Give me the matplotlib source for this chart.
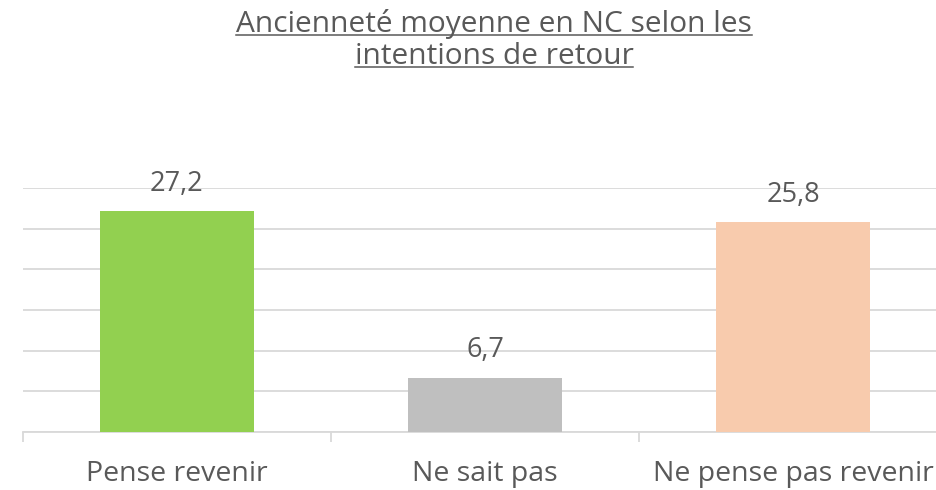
import matplotlib
matplotlib.use('Agg')
import matplotlib.pyplot as plt
from matplotlib.lines import Line2D

categories = ['Pense revenir', 'Ne sait pas', 'Ne pense pas revenir']
values = [27.2, 6.7, 25.8]
bar_colors = ['#92D050', '#BFBFBF', '#F8CBAD']
title_lines = ['Ancienneté moyenne en NC selon les', 'intentions de retour']

W, H = 937, 490
TXT = '#595959'
plt.rcParams['font.family'] = ['Open Sans', 'DejaVu Sans']

fig = plt.figure(figsize=(W / 100, H / 100), dpi=100)
# axes runs past the right edge like in the original export
ax = fig.add_axes((23 / W, 58 / H, (947 - 23) / W, (432 - 188) / H))

x = range(len(categories))
bars = ax.bar(x, values, width=0.5, color=bar_colors, zorder=3)

ax.set_ylim(0, 30)
ax.set_xlim(-0.5, len(categories) - 0.5)
ax.set_yticks([0, 5, 10, 15, 20, 25, 30])
ax.yaxis.grid(True, color='#D9D9D9', linewidth=1.3, zorder=0)
ax.tick_params(axis='y', length=0, labelleft=False)

ax.set_xticks(list(x))
ax.set_xticklabels(categories, fontsize=20.5, color=TXT)
ax.set_xticks([i - 0.5 for i in range(len(categories) + 1)], minor=True)
ax.tick_params(axis='x', which='major', length=0, pad=20)
ax.tick_params(axis='x', which='minor', length=7, width=1.3, color='#D9D9D9')

for s in ['top', 'right', 'left']:
    ax.spines[s].set_visible(False)
ax.spines['bottom'].set_color('#D9D9D9')
ax.spines['bottom'].set_linewidth(1.3)

for b, v in zip(bars, values):
    ax.annotate(f'{v:.1f}'.replace('.', ','),
                (b.get_x() + b.get_width() / 2, v),
                xytext=(0, 14.5), textcoords='offset points',
                ha='center', va='baseline', fontsize=19.5, color=TXT)

# title, two lines, underlined by hand
baselines = [32, 64]
titles = []
for line, yb in zip(title_lines, baselines):
    t = fig.text(494 / W, (H - yb) / H, line, ha='center', va='baseline',
                 fontsize=21.5, color=TXT)
    titles.append((t, yb))

fig.canvas.draw()
r = fig.canvas.get_renderer()
for t, yb in titles:
    bb = t.get_window_extent(r)
    yl = (H - yb - 3) / H
    fig.add_artist(Line2D([bb.x0 / W, bb.x1 / W], [yl, yl],
                          transform=fig.transFigure, color=TXT, linewidth=1.1))

fig.savefig('out.png', dpi=100)
